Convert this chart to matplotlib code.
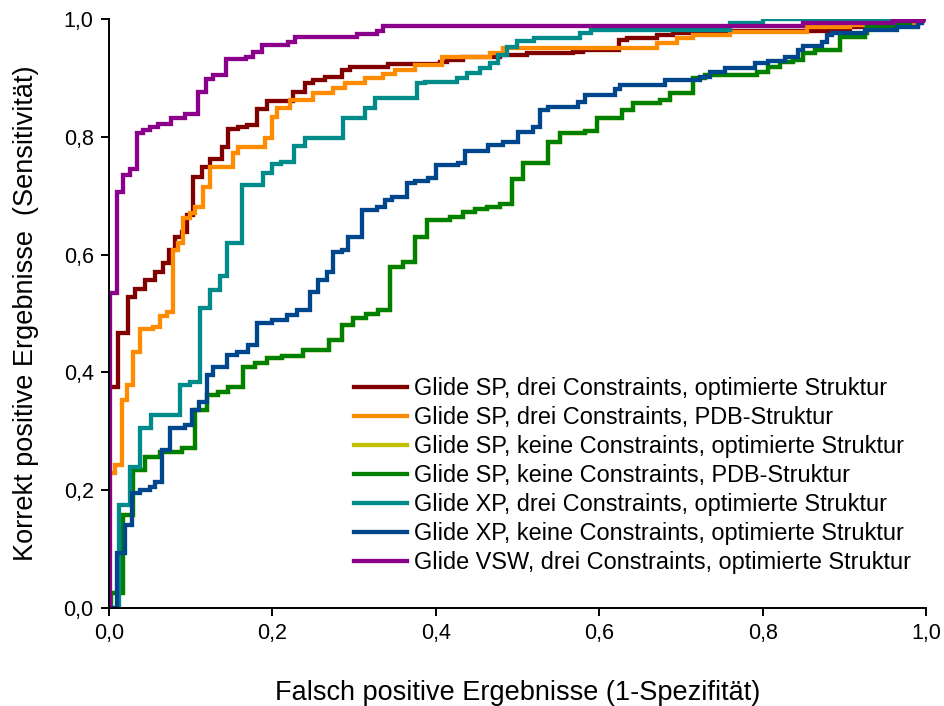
import matplotlib
matplotlib.use("Agg")
import matplotlib.pyplot as plt
from matplotlib.ticker import FuncFormatter

plt.rcParams['font.family'] = ['Liberation Sans', 'DejaVu Sans']

# ROC-Kurven: (FPR, TPR) an jeder Stufe
sp_drei_opt_x = [0.0, 0.0, 0.011, 0.023, 0.032, 0.044, 0.056, 0.066, 0.073, 0.081, 0.089, 0.095,
                 0.103, 0.114, 0.124, 0.138, 0.146, 0.158, 0.169, 0.181, 0.193, 0.225, 0.240,
                 0.250, 0.264, 0.285, 0.295, 0.341, 0.405, 0.414, 0.433, 0.479, 0.512, 0.568,
                 0.580, 0.624, 0.634, 0.671, 0.690, 0.715, 0.907, 0.944, 0.993, 1.0]
sp_drei_opt_y = [0.0, 0.375, 0.467, 0.528, 0.541, 0.557, 0.571, 0.585, 0.608, 0.630, 0.638, 0.667,
                 0.732, 0.749, 0.762, 0.783, 0.813, 0.817, 0.820, 0.847, 0.861, 0.876, 0.891,
                 0.896, 0.901, 0.913, 0.918, 0.923, 0.927, 0.930, 0.935, 0.939, 0.942, 0.944,
                 0.947, 0.964, 0.968, 0.973, 0.976, 0.980, 0.986, 0.993, 1.0, 1.0]

sp_drei_pdb_x = [0.0, 0.0, 0.007, 0.016, 0.022, 0.029, 0.038, 0.054, 0.062, 0.071, 0.078, 0.084,
                 0.090, 0.099, 0.105, 0.115, 0.124, 0.152, 0.158, 0.191, 0.200, 0.206, 0.222,
                 0.250, 0.274, 0.289, 0.313, 0.335, 0.350, 0.374, 0.407, 0.466, 0.482, 0.671,
                 0.695, 0.715, 0.760, 0.854, 0.907, 0.990, 1.0]
sp_drei_pdb_y = [0.0, 0.229, 0.243, 0.353, 0.379, 0.435, 0.474, 0.477, 0.496, 0.503, 0.608, 0.620,
                 0.662, 0.671, 0.681, 0.715, 0.749, 0.772, 0.783, 0.798, 0.834, 0.849, 0.862,
                 0.874, 0.883, 0.891, 0.900, 0.907, 0.913, 0.922, 0.935, 0.942, 0.951, 0.959,
                 0.968, 0.973, 0.978, 0.986, 0.990, 1.0, 1.0]

sp_keine_pdb_x = [0.0, 0.003, 0.017, 0.029, 0.044, 0.062, 0.089, 0.105, 0.120, 0.133, 0.146, 0.164,
                  0.179, 0.193, 0.212, 0.237, 0.269, 0.285, 0.299, 0.315, 0.329, 0.344, 0.360,
                  0.374, 0.389, 0.417, 0.433, 0.448, 0.463, 0.479, 0.493, 0.507, 0.537, 0.552,
                  0.583, 0.597, 0.628, 0.641, 0.674, 0.687, 0.715, 0.729, 0.793, 0.807, 0.821,
                  0.837, 0.849, 0.864, 0.895, 0.925, 0.928, 0.960, 0.980, 1.0]
sp_keine_pdb_y = [0.0, 0.025, 0.158, 0.234, 0.256, 0.265, 0.272, 0.336, 0.362, 0.367, 0.375, 0.409,
                  0.416, 0.424, 0.428, 0.438, 0.455, 0.480, 0.492, 0.499, 0.506, 0.579, 0.587,
                  0.630, 0.659, 0.664, 0.672, 0.677, 0.681, 0.686, 0.728, 0.756, 0.791, 0.806,
                  0.810, 0.832, 0.846, 0.857, 0.862, 0.874, 0.900, 0.905, 0.910, 0.918, 0.927,
                  0.930, 0.942, 0.947, 0.969, 0.976, 0.986, 0.993, 1.0, 1.0]

# keine Constraints, optimierte Struktur: identisch mit der PDB-Kurve
sp_keine_opt_x = list(sp_keine_pdb_x)
sp_keine_opt_y = list(sp_keine_pdb_y)

xp_drei_opt_x = [0.0, 0.012, 0.026, 0.038, 0.051, 0.087, 0.099, 0.111, 0.124, 0.136, 0.144, 0.163,
                 0.188, 0.200, 0.211, 0.226, 0.240, 0.286, 0.313, 0.326, 0.377, 0.387, 0.426,
                 0.438, 0.454, 0.466, 0.476, 0.487, 0.499, 0.520, 0.577, 0.590, 0.760, 0.800, 1.0]
xp_drei_opt_y = [0.0, 0.175, 0.240, 0.305, 0.327, 0.379, 0.384, 0.509, 0.540, 0.563, 0.620, 0.718,
                 0.739, 0.754, 0.757, 0.785, 0.798, 0.832, 0.849, 0.866, 0.891, 0.893, 0.900,
                 0.908, 0.917, 0.925, 0.939, 0.953, 0.962, 0.968, 0.976, 0.981, 0.993, 1.0, 1.0]

xp_keine_opt_x = [0.0, 0.010, 0.020, 0.028, 0.038, 0.050, 0.056, 0.065, 0.075, 0.093, 0.102, 0.110,
                  0.120, 0.127, 0.144, 0.157, 0.170, 0.181, 0.200, 0.218, 0.230, 0.246, 0.256,
                  0.267, 0.274, 0.285, 0.293, 0.310, 0.328, 0.338, 0.346, 0.365, 0.375, 0.390,
                  0.400, 0.427, 0.436, 0.464, 0.482, 0.501, 0.519, 0.528, 0.537, 0.574, 0.583,
                  0.619, 0.625, 0.681, 0.723, 0.736, 0.754, 0.791, 0.807, 0.827, 0.843, 0.849,
                  0.873, 0.879, 0.885, 0.925, 0.964, 0.990, 0.995, 1.0]
xp_keine_opt_y = [0.0, 0.093, 0.141, 0.195, 0.200, 0.205, 0.214, 0.268, 0.306, 0.311, 0.336, 0.350,
                  0.396, 0.409, 0.430, 0.435, 0.447, 0.484, 0.489, 0.497, 0.506, 0.537, 0.557,
                  0.571, 0.604, 0.608, 0.630, 0.676, 0.681, 0.693, 0.698, 0.722, 0.725, 0.730,
                  0.752, 0.756, 0.776, 0.786, 0.791, 0.808, 0.817, 0.846, 0.851, 0.859, 0.871,
                  0.881, 0.888, 0.896, 0.902, 0.910, 0.917, 0.925, 0.929, 0.935, 0.947, 0.954,
                  0.961, 0.973, 0.976, 0.981, 0.986, 0.993, 1.0, 1.0]

vsw_drei_opt_x = [0.0, 0.001, 0.010, 0.017, 0.026, 0.034, 0.042, 0.050, 0.060, 0.076, 0.093, 0.109,
                  0.119, 0.127, 0.143, 0.168, 0.176, 0.187, 0.219, 0.228, 0.304, 0.328, 0.335,
                  0.849, 0.960, 0.996, 1.0]
vsw_drei_opt_y = [0.0, 0.535, 0.706, 0.735, 0.745, 0.806, 0.811, 0.817, 0.822, 0.832, 0.839, 0.876,
                  0.898, 0.905, 0.932, 0.935, 0.944, 0.956, 0.961, 0.970, 0.975, 0.980, 0.988,
                  0.993, 0.997, 1.0, 1.0]

labels = [
    "Glide SP, drei Constraints, optimierte Struktur",
    "Glide SP, drei Constraints, PDB-Struktur",
    "Glide SP, keine Constraints, optimierte Struktur",
    "Glide SP, keine Constraints, PDB-Struktur",
    "Glide XP, drei Constraints, optimierte Struktur",
    "Glide XP, keine Constraints, optimierte Struktur",
    "Glide VSW, drei Constraints, optimierte Struktur",
]
colors = ["#800000", "#ff8c00", "#c0c000", "#008000", "#008b8b", "#00468c", "#8b008b"]

curves = [
    (sp_drei_opt_x, sp_drei_opt_y),
    (sp_drei_pdb_x, sp_drei_pdb_y),
    (sp_keine_opt_x, sp_keine_opt_y),
    (sp_keine_pdb_x, sp_keine_pdb_y),
    (xp_drei_opt_x, xp_drei_opt_y),
    (xp_keine_opt_x, xp_keine_opt_y),
    (vsw_drei_opt_x, vsw_drei_opt_y),
]

fig = plt.figure(figsize=(9.45, 7.06), dpi=100)
ax = fig.add_axes([109 / 945, 1 - 608 / 706, (926 - 109) / 945, (608 - 19) / 706])

for (xs, ys), lab, col in zip(curves, labels, colors):
    ax.step(xs, ys, where='post', color=col, lw=3.1, label=lab, solid_joinstyle='miter')

ax.set_xlim(0, 1)
ax.set_ylim(0, 1)
ticks = [0.0, 0.2, 0.4, 0.6, 0.8, 1.0]
ax.set_xticks(ticks)
ax.set_yticks(ticks)
komma = FuncFormatter(lambda v, p: f"{v:.1f}".replace(".", ","))
ax.xaxis.set_major_formatter(komma)
ax.yaxis.set_major_formatter(komma)
ax.tick_params(direction='out', length=6, width=1.4, labelsize=15.5, pad=5)
for s in ("top", "right"):
    ax.spines[s].set_visible(False)
for s in ("left", "bottom"):
    ax.spines[s].set_linewidth(1.4)

ax.set_xlabel("Falsch positive Ergebnisse (1-Spezifität)", fontsize=19.5, labelpad=26)
ax.set_ylabel("Korrekt positive Ergebnisse  (Sensitivität)", fontsize=19.5, labelpad=18)

ax.legend(loc='upper left', bbox_to_anchor=(342 / 945, 1 - 365 / 706),
          bbox_transform=fig.transFigure, frameon=False, fontsize=16.9,
          handlelength=2.25, handletextpad=0.3, labelspacing=0.26, borderpad=0)

fig.savefig("out.png", dpi=100)
